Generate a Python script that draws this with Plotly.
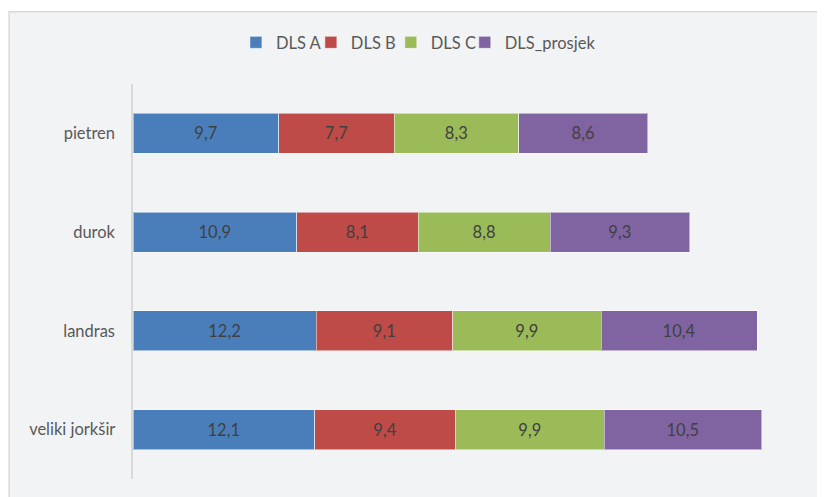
import plotly.graph_objects as go

categories = ["pietren", "durok", "landras", "veliki jorkšir"]
series_names = ["DLS A", "DLS B", "DLS C", "DLS_prosjek"]
dls_a = [9.7, 10.9, 12.2, 12.1]
dls_b = [7.7, 8.1, 9.1, 9.4]
dls_c = [8.3, 8.8, 9.9, 9.9]
dls_prosjek = [8.6, 9.3, 10.4, 10.5]
colors = ["#4a7ebb", "#be4b48", "#9bbb59", "#8064a2"]

FONT = "Lato, Open Sans, sans-serif"
FS = 16.5

# page body has an 8px margin; figure is sized to fit the window
OFF = 8
W, H = 825 - OFF, 497 - OFF
ml, mr, mt, mb = 133 - OFF, 16.5, 83.5 - OFF, 17.5
pw = W - ml - mr
ph = H - mt - mb

legend_px = [256, 331, 411, 485]  # left edge of each legend swatch (page px)
legend_names = ["legend2", "legend3", "legend4", "legend5"]

fig = go.Figure()
for name, vals, col, lg in zip(series_names, [dls_a, dls_b, dls_c, dls_prosjek], colors, legend_names):
    fig.add_trace(go.Bar(
        y=categories, x=vals, name=name, orientation="h", legend=lg,
        marker=dict(color=col, line=dict(color="rgba(255,255,255,0.5)", width=1)),
        text=[f"{v:.1f}".replace(".", ",") for v in vals],
        textposition="inside", insidetextanchor="middle",
        textfont=dict(family=FONT, size=FS, color="#404040"),
        constraintext="none",
    ))

legends = {}
for lg, px in zip(legend_names, legend_px):
    legends[lg] = dict(orientation="h", x=(px - OFF - 20 - ml) / pw, xanchor="left",
                       y=(H - mb - (42 - OFF)) / ph, yanchor="middle",
                       font=dict(family=FONT, size=FS, color="#595959"),
                       itemwidth=30, bgcolor="rgba(0,0,0,0)")

fig.update_layout(
    width=W, height=H,
    barmode="stack", bargap=0.596,
    margin=dict(l=ml, r=mr, t=mt, b=mb, pad=0, autoexpand=False),
    paper_bgcolor="white", plot_bgcolor="#f2f3f5",
    font=dict(family=FONT, size=FS, color="#595959"),
    showlegend=True,
    xaxis=dict(range=[0, 45], visible=False, showgrid=False, zeroline=False),
    yaxis=dict(range=[3.5, -0.5], showgrid=False, zeroline=False, showline=True,
               linecolor="#d9d9d9", linewidth=2, ticks="", ticklen=0,
               automargin=False,
               tickfont=dict(family=FONT, size=FS, color="#595959"),
               ticksuffix="   "),
    shapes=[dict(type="rect", xref="paper", yref="paper", layer="below",
                 x0=(9 - OFF - ml) / pw, x1=1.2, y0=-0.2, y1=(H - mb - (11 - OFF)) / ph,
                 fillcolor="#f2f3f5", line=dict(color="#d9d9d9", width=1.5))],
    **legends,
)

fig.write_html("out.html")
